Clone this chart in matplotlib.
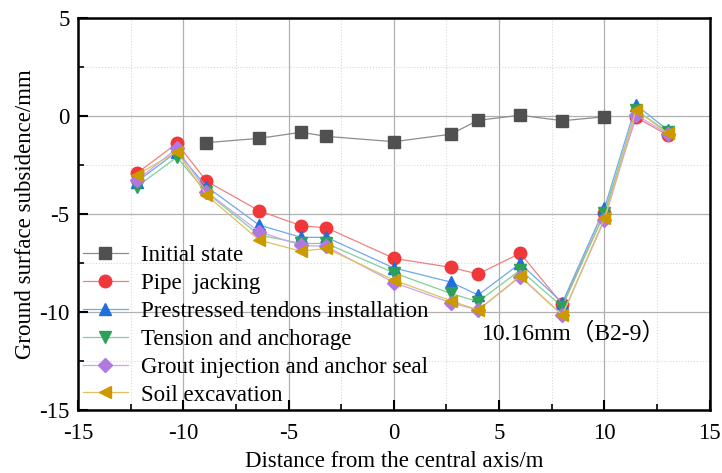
import matplotlib
matplotlib.use("Agg")
import matplotlib.pyplot as plt
from matplotlib.ticker import MultipleLocator

plt.rcParams['font.family'] = ['Liberation Serif', 'Noto Sans CJK SC']
plt.rcParams['axes.unicode_minus'] = False

# Monitoring point positions (m)
x_init = [-8.9, -6.4, -4.4, -3.2, 0.0, 2.7, 4.0, 6.0, 8.0, 10.0]
x_all = [-12.2, -10.3, -8.9, -6.4, -4.4, -3.2, 0.0, 2.7, 4.0, 6.0, 8.0, 10.0, 11.5, 13.0]

# Ground surface subsidence (mm)
initial_state = [-1.36, -1.14, -0.83, -1.04, -1.31, -0.93, -0.22, 0.04, -0.24, -0.04]
pipe_jacking = [-2.92, -1.39, -3.32, -4.83, -5.60, -5.70, -7.26, -7.72, -8.06, -7.00, -9.60, -4.95, -0.07, -0.97]
prestressed = [-3.35, -1.82, -3.60, -5.56, -6.19, -6.19, -7.75, -8.47, -9.13, -7.52, -9.52, -4.71, 0.56, -0.71]
tension = [-3.60, -2.10, -3.90, -6.07, -6.50, -6.50, -8.00, -9.05, -9.47, -7.86, -9.73, -4.95, 0.30, -0.80]
grout = [-3.27, -1.65, -3.86, -5.90, -6.60, -6.65, -8.50, -9.52, -9.90, -8.20, -10.16, -5.30, 0.05, -0.90]
soil_excavation = [-3.00, -1.82, -4.03, -6.33, -6.90, -6.75, -8.37, -9.42, -9.90, -8.16, -10.15, -5.22, 0.31, -0.88]

fig = plt.figure(figsize=(7.22, 4.73), dpi=100)
ax = fig.add_axes([0.108, 0.133, 0.875, 0.829])

ax.plot(x_init, initial_state, marker='s', color='#8c8c8c', mfc='#505050', mec='#505050',
        lw=0.9, ms=8, label='Initial state')
ax.plot(x_all, pipe_jacking, marker='o', color='#f08080', mfc='#f0373a', mec='#f0373a',
        lw=0.9, ms=9, label='Pipe  jacking')
ax.plot(x_all, prestressed, marker='^', color='#6fa8ec', mfc='#1f6fdc', mec='#1f6fdc',
        lw=0.9, ms=9, label='Prestressed tendons installation')
ax.plot(x_all, tension, marker='v', color='#7fcf9c', mfc='#2ca05a', mec='#2ca05a',
        lw=0.9, ms=9, label='Tension and anchorage')
ax.plot(x_all, grout, marker='D', color='#c8a8ec', mfc='#b278e0', mec='#b278e0',
        lw=0.9, ms=7, label='Grout injection and anchor seal')
ax.plot(x_all, soil_excavation, marker='<', color='#e0c060', mfc='#cc9900', mec='#cc9900',
        lw=0.9, ms=9, label='Soil excavation')

ax.text(4.2, -11.1, '10.16mm（B2-9）', fontsize=17, va='center', ha='left')

ax.set_xlim(-15, 15)
ax.set_ylim(-15, 5)
ax.xaxis.set_major_locator(MultipleLocator(5))
ax.xaxis.set_minor_locator(MultipleLocator(2.5))
ax.yaxis.set_major_locator(MultipleLocator(5))
ax.yaxis.set_minor_locator(MultipleLocator(2.5))
ax.grid(True, which='major', color='#b0b0b0', lw=0.9)
ax.grid(True, which='minor', color='#d8d8d8', lw=0.8, ls=':')
ax.set_axisbelow(True)
ax.tick_params(which='major', direction='in', length=7, width=1.5, labelsize=16.5)
ax.tick_params(axis='x', which='major', pad=9)
ax.tick_params(axis='y', which='major', pad=6)
ax.tick_params(which='minor', direction='in', length=4, width=1.2)
for s in ax.spines.values():
    s.set_linewidth(1.8)

ax.set_xlabel('Distance from the central axis/m', fontsize=16.5, labelpad=5)
ax.set_ylabel('Ground surface subsidence/mm', fontsize=16.5, labelpad=2)

ax.legend(loc='lower left', frameon=False, fontsize=16.5, handlelength=2.0,
          handletextpad=0.55, labelspacing=0.3, borderaxespad=0.05, borderpad=0.15)

fig.savefig('out.png', dpi=100)
